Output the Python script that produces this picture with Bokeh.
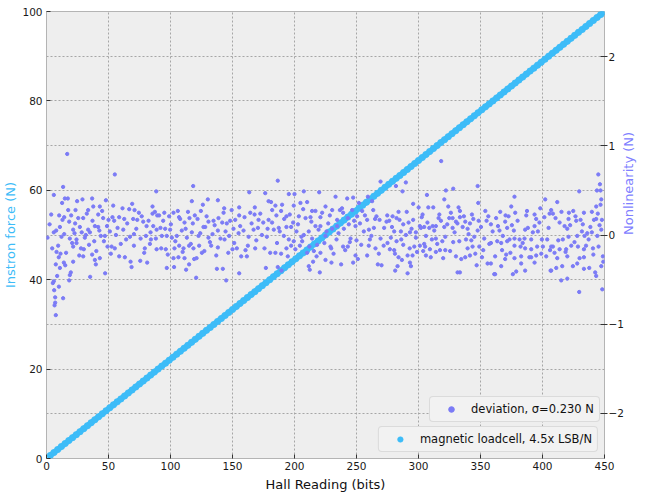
import math
from bokeh.plotting import figure
from bokeh.models import (Range1d, LinearAxis, FixedTicker, Grid, Legend,
                          LegendItem, ColumnDataSource)
from bokeh.embed import file_html
from bokeh.resources import INLINE

# ---------------- data ----------------
# magnetic loadcell: Instron force (N) vs Hall reading (bits)
load_bits = [3, 6, 9, 12, 15, 18, 21, 24, 27, 30, 33, 36, 39, 42, 45,
             48, 51, 54, 57, 60, 63, 66, 69, 72, 75, 78, 81, 84, 87, 90,
             93, 96, 99, 102, 105, 108, 111, 114, 117, 120, 123, 126, 129, 132, 135,
             138, 141, 144, 147, 150, 153, 156, 159, 162, 165, 168, 171, 174, 177, 180,
             183, 186, 189, 192, 195, 198, 201, 204, 207, 210, 213, 216, 219, 222, 225,
             228, 231, 234, 237, 240, 243, 246, 249, 252, 255, 258, 261, 264, 267, 270,
             273, 276, 279, 282, 285, 288, 291, 294, 297, 300, 303, 306, 309, 312, 315,
             318, 321, 324, 327, 330, 333, 336, 339, 342, 345, 348, 351, 354, 357, 360,
             363, 366, 369, 372, 375, 378, 381, 384, 387, 390, 393, 396, 399, 402, 405,
             408, 411, 414, 417, 420, 423, 426, 429, 432, 435, 438, 441, 444, 447, 450]
force_n = [0.67, 1.33, 2.0, 2.67, 3.33, 4.0, 4.67, 5.33, 6.0, 6.67, 7.33, 8.0, 8.67, 9.33, 10.0,
           10.67, 11.33, 12.0, 12.67, 13.33, 14.0, 14.67, 15.33, 16.0, 16.67, 17.33, 18.0, 18.67, 19.33, 20.0,
           20.67, 21.33, 22.0, 22.67, 23.33, 24.0, 24.67, 25.33, 26.0, 26.67, 27.33, 28.0, 28.67, 29.33, 30.0,
           30.67, 31.33, 32.0, 32.67, 33.33, 34.0, 34.67, 35.33, 36.0, 36.67, 37.33, 38.0, 38.67, 39.33, 40.0,
           40.67, 41.33, 42.0, 42.67, 43.33, 44.0, 44.67, 45.33, 46.0, 46.67, 47.33, 48.0, 48.67, 49.33, 50.0,
           50.67, 51.33, 52.0, 52.67, 53.33, 54.0, 54.67, 55.33, 56.0, 56.67, 57.33, 58.0, 58.67, 59.33, 60.0,
           60.67, 61.33, 62.0, 62.67, 63.33, 64.0, 64.67, 65.33, 66.0, 66.67, 67.33, 68.0, 68.67, 69.33, 70.0,
           70.67, 71.33, 72.0, 72.67, 73.33, 74.0, 74.67, 75.33, 76.0, 76.67, 77.33, 78.0, 78.67, 79.33, 80.0,
           80.67, 81.33, 82.0, 82.67, 83.33, 84.0, 84.67, 85.33, 86.0, 86.67, 87.33, 88.0, 88.67, 89.33, 90.0,
           90.67, 91.33, 92.0, 92.67, 93.33, 94.0, 94.67, 95.33, 96.0, 96.67, 97.33, 98.0, 98.67, 99.33, 100.0]

# deviation (nonlinearity, N) vs Hall reading (bits), read in five stretches
dev_bits_a = [16.7, 55.1, 13.4, 5.9, 88.5, 12.6, 14.8, 17.2, 24.7, 29.0, 36.8, 47.9, 3.8, 10.2, 14.3, 18.3, 17.5, 23.4, 29.6, 25.6, 33.6, 37.7, 43.0, 53.8, 61.3, 66.7, 69.1, 71.0, 74.5, 85.5, 85.5, 89.3, 41.7, 45.7, 50.0, 54.6, 58.6, 65.1, 69.9, 73.2, 78.0, 82.3, 80.7, 86.1, 88.8, 10.8, 5.9, 0.8, 12.1, 14.3, 21.5, 22.6, 26.9, 33.6, 35.0, 39.0, 41.7, 43.8, 18.8, 24.2, 30.9, 31.7, 38.5, 47.1, 51.1, 56.0, 61.9, 67.3, 70.5, 75.9, 80.2, 84.2, 88.2, 9.4, 8.1, 11.3, 21.5, 24.2, 26.4, 29.6, 30.1, 36.8, 39.0, 43.0, 49.2, 52.5, 55.1, 58.6, 63.2, 70.5, 67.8, 68.6, 78.8, 81.2, 75.6, 83.4, 88.8, 7.5, 10.8, 14.0, 15.1, 21.5, 19.6, 18.8, 8.6, 5.9, 5.1, 10.0, 18.3, 35.2, 47.3, 6.2, 7.0, 7.0, 6.5, 13.4, 7.5, 39.8,
              2.5, 4.6, 7.8, 9.9, 12.9, 15.8, 19.9, 20.7, 23.1, 27.8, 28.4, 32.5, 34.3, 37.1, 40.2, 42.6, 44.9, 46.3, 48.8, 51.9, 53.2, 57.3, 59.9, 62.7, 64.2, 72.4, 76.8, 79.3, 83.9, 87.4]
dev_n_a = [0.91, 0.68, 0.54, 0.45, 0.49, 0.36, 0.41, 0.41, 0.38, 0.40, 0.41, 0.39, 0.23, 0.22, 0.20, 0.15, 0.28, 0.28, 0.19, 0.19, 0.28, 0.32, 0.32, 0.33, 0.30, 0.29, 0.35, 0.28, 0.25, 0.32, 0.24, 0.22, 0.23, 0.19, 0.17, 0.16, 0.20, 0.13, 0.18, 0.17, 0.15, 0.16, 0.10, 0.10, 0.06, 0.09, 0.03, -0.03, -0.02, 0.01, 0.06, 0.02, 0.09, 0.06, 0.03, 0.10, 0.09, -0.01, -0.04, -0.05, -0.03, 0.00, -0.07, -0.01, 0.04, 0.00, 0.06, -0.02, 0.01, -0.04, -0.01, -0.05, -0.04, -0.12, -0.19, -0.21, -0.13, -0.09, -0.23, -0.24, -0.16, -0.22, -0.28, -0.26, -0.13, -0.13, -0.15, -0.24, -0.25, -0.12, -0.30, -0.36, -0.20, -0.31, -0.29, -0.10, -0.16, -0.33, -0.37, -0.31, -0.34, -0.30, -0.42, -0.45, -0.46, -0.52, -0.54, -0.58, -0.51, -0.47, -0.43, -0.62, -0.70, -0.76, -0.79, -0.71, -0.90, -0.33,
           0.12, -0.15, 0.05, -0.25, 0.17, -0.20, 0.22, -0.09, 0.13, -0.15, 0.03, 0.24, -0.11, 0.16, -0.18, 0.05, 0.27, -0.07, 0.10, -0.21, 0.20, 0.08, -0.10, 0.18, -0.05, 0.07, 0.21, -0.15, 0.03, 0.26]

dev_bits_b = [118.3, 163.5, 176.4, 117.2, 126.1, 130.1, 138.2, 143.3, 155.4, 168.0, 179.1, 124.5, 102.4, 105.9, 90.8, 94.1, 98.9, 107.8, 111.3, 115.3, 118.0, 121.8, 126.6, 130.6, 134.7, 138.7, 142.8, 145.4, 148.1, 152.2, 155.4, 159.7, 164.3, 167.8, 171.0, 174.8, 179.1, 95.7, 99.7, 93.0, 97.0, 101.1, 105.1, 109.1, 113.2, 117.2, 122.6, 128.0, 130.6, 133.9, 138.2, 143.6, 147.3, 150.8, 154.9, 158.9, 163.0, 167.0, 170.5, 173.7, 177.7, 92.5, 96.2, 103.2, 107.0, 110.5, 115.0, 118.5, 123.1, 125.3, 132.8, 138.2, 150.0, 153.5, 162.4, 168.3, 175.8, 102.4, 106.4, 111.3, 115.0, 119.1, 157.0, 161.6, 97.0, 102.9, 112.6, 137.4, 142.2, 120.7, 144.9, 155.4, 176.9, 180.4,
              91.9, 95.0, 97.8, 100.3, 103.9, 106.9, 109.8, 112.2, 114.1, 116.4, 119.6, 121.0, 124.0, 127.3, 129.1, 131.8, 135.6, 136.9, 140.3, 141.7, 144.4, 146.6, 149.3, 151.4, 156.2, 160.5, 165.4, 169.2, 172.4, 178.3]
dev_n_b = [0.55, 0.48, 0.47, 0.38, 0.34, 0.40, 0.39, 0.30, 0.31, 0.31, 0.38, 0.27, 0.25, 0.27, 0.22, 0.16, 0.21, 0.18, 0.14, 0.19, 0.13, 0.18, 0.09, 0.15, 0.16, 0.19, 0.25, 0.13, 0.16, 0.17, 0.22, 0.20, 0.25, 0.23, 0.17, 0.14, 0.17, 0.07, 0.06, -0.01, -0.01, -0.03, -0.01, 0.05, -0.03, 0.03, -0.01, 0.09, -0.03, 0.01, 0.05, -0.05, -0.01, 0.07, 0.02, 0.05, -0.02, 0.06, 0.08, 0.00, -0.02, -0.15, -0.16, -0.15, -0.12, -0.15, -0.12, -0.15, -0.12, -0.20, -0.12, -0.14, -0.16, -0.15, -0.12, -0.15, -0.15, -0.26, -0.25, -0.26, -0.33, -0.27, -0.24, -0.24, -0.37, -0.36, -0.39, -0.38, -0.38, -0.48, -0.51, -0.43, -0.37, -0.20,
           0.08, 0.25, -0.22, 0.12, -0.07, 0.20, -0.19, 0.07, 0.26, -0.10, 0.22, -0.26, 0.02, -0.18, 0.21, -0.08, 0.11, -0.23, -0.04, 0.14, 0.04, -0.20, 0.28, -0.09, 0.10, -0.17, 0.13, -0.06, 0.24, 0.07]

dev_bits_c = [186.5, 269.4, 195.4, 200.0, 207.5, 219.9, 233.1, 242.5, 247.3, 259.2, 251.9, 262.6, 181.1, 184.6, 190.0, 199.4, 204.8, 210.2, 207.0, 214.2, 216.9, 225.0, 230.4, 236.6, 239.2, 246.5, 254.6, 263.5, 266.1, 182.0, 185.4, 189.2, 193.5, 198.9, 203.5, 212.9, 220.9, 228.5, 234.4, 243.0, 250.5, 258.6, 268.6, 183.3, 187.3, 193.5, 197.3, 201.6, 207.5, 211.5, 216.9, 220.9, 225.8, 230.4, 234.4, 239.8, 243.8, 249.2, 255.9, 260.0, 264.0, 191.4, 195.4, 199.4, 204.3, 206.2, 214.2, 218.3, 225.0, 229.0, 233.9, 239.2, 245.2, 250.0, 253.8, 260.8, 265.3, 269.4, 184.6, 189.2, 193.5, 197.3, 210.2, 220.9, 215.6, 229.6, 243.0, 249.2, 258.6, 186.5, 189.5, 211.5, 212.3, 215.0, 220.4, 225.0, 229.8, 237.6, 247.3, 267.2, 270.2,
              181.9, 185.9, 188.1, 191.7, 194.6, 196.2, 200.7, 202.8, 205.6, 208.9, 212.0, 213.6, 217.8, 219.4, 222.3, 224.1, 227.2, 231.5, 235.5, 238.3, 240.9, 244.6, 248.1, 251.1, 252.8, 256.8, 259.9, 262.0, 265.0, 268.0]
dev_n_c = [0.61, 0.60, 0.46, 0.46, 0.49, 0.48, 0.43, 0.41, 0.42, 0.43, 0.36, 0.38, 0.37, 0.33, 0.34, 0.33, 0.36, 0.37, 0.29, 0.27, 0.27, 0.32, 0.28, 0.28, 0.25, 0.28, 0.27, 0.28, 0.21, 0.28, 0.22, 0.27, 0.21, 0.14, 0.21, 0.20, 0.20, 0.22, 0.17, 0.19, 0.21, 0.17, 0.17, 0.06, 0.08, 0.09, 0.09, 0.04, 0.00, 0.04, 0.10, 0.10, 0.04, 0.07, 0.10, 0.07, 0.12, 0.10, 0.04, 0.06, 0.08, -0.01, -0.05, -0.07, -0.12, -0.07, -0.04, -0.11, -0.01, -0.13, -0.05, -0.13, -0.04, -0.06, -0.11, -0.05, -0.15, -0.04, -0.20, -0.21, -0.15, -0.12, -0.20, -0.20, -0.18, -0.15, -0.13, -0.23, -0.23, -0.36, -0.40, -0.35, -0.39, -0.30, -0.42, -0.28, -0.31, -0.33, -0.31, -0.33, -0.34,
           0.14, -0.09, 0.04, 0.18, -0.24, 0.23, -0.16, 0.12, -0.02, 0.19, -0.13, 0.15, -0.24, 0.06, 0.25, -0.09, 0.13, -0.21, 0.02, 0.30, -0.17, -0.08, 0.16, -0.27, 0.13, 0.22, -0.12, -0.01, 0.18, -0.21]

dev_bits_d = [318.3, 289.8, 281.8, 287.1, 322.1, 328.0, 347.7, 306.8, 320.8, 295.7, 300.1, 307.9, 311.9, 324.0, 332.3, 348.2, 353.9, 283.9, 303.3, 279.1, 326.1, 333.4, 343.1, 274.2, 276.4, 282.3, 287.7, 292.0, 295.7, 301.1, 304.6, 308.7, 316.2, 318.1, 324.8, 327.5, 330.2, 333.4, 337.7, 341.5, 348.5, 354.9, 358.4, 272.3, 280.4, 285.8, 293.1, 297.9, 301.9, 311.4, 314.0, 320.8, 327.5, 335.6, 339.6, 347.7, 359.8, 277.7, 282.3, 289.8, 297.9, 306.0, 310.8, 314.0, 321.6, 328.0, 332.9, 338.3, 345.0, 353.0, 357.1, 275.0, 287.7, 296.6, 301.1, 304.6, 309.2, 317.3, 321.6, 339.6, 343.6, 349.0, 358.4, 276.9, 280.4, 291.2, 295.2, 303.8, 306.0, 314.0, 319.9, 330.2, 337.7, 341.5, 345.8, 351.2, 283.9, 286.6, 293.1, 293.9, 283.1, 281.2, 291.2, 331.5, 333.4, 346.9, 355.7, 358.4, 361.1,
              271.9, 274.8, 278.6, 281.0, 284.7, 286.1, 290.5, 292.9, 294.4, 298.8, 302.6, 305.3, 307.2, 309.9, 312.7, 315.1, 316.8, 319.2, 323.2, 325.5, 329.1, 331.4, 334.5, 336.6, 340.4, 342.6, 344.2, 350.4, 352.2, 356.3]
dev_n_d = [0.83, 0.59, 0.55, 0.49, 0.50, 0.52, 0.55, 0.45, 0.40, 0.35, 0.31, 0.31, 0.31, 0.32, 0.31, 0.36, 0.27, 0.26, 0.23, 0.21, 0.25, 0.27, 0.23, 0.15, 0.16, 0.19, 0.12, 0.14, 0.17, 0.10, 0.09, 0.08, 0.19, 0.16, 0.19, 0.19, 0.15, 0.20, 0.15, 0.13, 0.16, 0.16, 0.12, 0.08, 0.04, 0.04, 0.03, 0.03, 0.08, 0.10, 0.10, 0.09, 0.08, 0.09, 0.07, 0.05, 0.04, -0.03, -0.07, 0.00, -0.03, -0.01, -0.05, -0.04, -0.02, -0.08, -0.07, -0.05, -0.02, -0.04, -0.10, -0.09, -0.11, -0.13, -0.12, -0.10, -0.16, -0.17, -0.17, -0.15, -0.13, -0.13, -0.09, -0.16, -0.17, -0.23, -0.23, -0.18, -0.23, -0.19, -0.26, -0.24, -0.25, -0.23, -0.21, -0.25, -0.25, -0.28, -0.31, -0.35, -0.35, -0.40, -0.43, -0.42, -0.42, -0.34, -0.32, -0.32, -0.44,
           -0.12, 0.22, 0.09, -0.21, 0.17, -0.05, 0.26, -0.15, 0.07, -0.19, 0.20, -0.13, 0.14, -0.25, 0.05, -0.10, 0.23, -0.07, 0.12, -0.18, 0.03, 0.13, -0.27, 0.21, 0.01, -0.06, 0.18, 0.09, -0.17, 0.21]

dev_bits_e = [445.0, 446.3, 443.9, 446.8, 429.6, 447.4, 446.8, 443.3, 377.4, 402.2, 411.9, 374.8, 398.2, 407.0, 408.4, 421.3, 424.8, 433.4, 439.8, 365.9, 370.2, 378.0, 386.9, 393.6, 394.9, 405.7, 413.8, 417.8, 421.0, 427.2, 430.7, 441.5, 443.3, 447.9, 362.6, 369.9, 371.5, 375.3, 365.3, 386.0, 388.2, 393.6, 396.3, 420.0, 431.8, 436.1, 439.8, 447.4, 363.5, 368.0, 373.4, 377.4, 381.5, 385.5, 390.9, 399.5, 403.8, 408.4, 416.4, 421.0, 428.0, 433.9, 437.2, 444.2, 366.7, 371.5, 377.4, 382.3, 386.0, 390.9, 395.7, 400.3, 407.0, 413.8, 419.1, 423.2, 428.6, 433.4, 440.7, 445.2, 361.8, 370.7, 377.4, 382.8, 390.9, 394.9, 403.0, 409.7, 411.9, 420.0, 428.0, 433.4, 448.7, 366.7, 369.9, 382.8, 393.6, 406.5, 411.1, 415.9, 424.5, 433.4, 437.7, 442.5, 443.3, 447.4, 376.1, 378.8, 386.0, 407.0, 415.1, 420.0, 429.6, 448.2, 361.8,
              364.1, 367.4, 372.6, 374.1, 376.9, 379.9, 384.0, 387.5, 389.4, 392.2, 397.5, 399.0, 401.5, 404.9, 406.1, 410.5, 412.7, 415.3, 418.6, 422.3, 425.8, 426.6, 429.9, 432.5, 435.1, 438.6, 441.0, 444.6, 446.0, 449.0]
dev_n_e = [0.68, 0.57, 0.50, 0.50, 0.49, 0.40, 0.34, 0.32, 0.43, 0.40, 0.37, 0.32, 0.30, 0.28, 0.24, 0.25, 0.27, 0.25, 0.26, 0.26, 0.22, 0.25, 0.22, 0.23, 0.18, 0.24, 0.14, 0.10, 0.18, 0.16, 0.17, 0.17, 0.18, 0.17, 0.19, 0.15, 0.08, 0.11, 0.05, 0.06, 0.08, 0.10, 0.04, 0.07, 0.04, 0.02, 0.03, 0.06, -0.07, -0.01, -0.05, -0.04, -0.05, -0.04, -0.05, -0.05, -0.05, -0.13, -0.05, -0.02, -0.01, -0.01, -0.05, -0.01, -0.09, -0.07, -0.12, -0.13, -0.15, -0.16, -0.13, -0.13, -0.13, -0.16, -0.16, -0.12, -0.13, -0.16, -0.15, -0.13, -0.24, -0.22, -0.26, -0.24, -0.25, -0.23, -0.24, -0.20, -0.26, -0.24, -0.32, -0.25, -0.24, -0.35, -0.27, -0.32, -0.31, -0.40, -0.37, -0.35, -0.35, -0.38, -0.37, -0.42, -0.46, -0.35, -0.44, -0.41, -0.40, -0.40, -0.51, -0.49, -0.64, -0.61, -0.44,
           0.10, -0.17, 0.21, -0.20, 0.05, 0.16, -0.09, 0.27, -0.25, 0.03, 0.14, -0.21, 0.20, 0.08, -0.17, 0.19, -0.06, 0.26, -0.19, 0.11, -0.08, 0.21, -0.26, 0.12, -0.12, 0.09, -0.22, 0.24, 0.11, -0.30]

x_ticks = [0, 50, 100, 150, 200, 250, 300, 350, 400, 450]
force_ticks = [0, 20, 40, 60, 80, 100]
dev_ticks = [-2, -1, 0, 1, 2]
dev_tick_labels = {-2: "\u22122", -1: "\u22121", 0: "0", 1: "1", 2: "2"}

label_load = "magnetic loadcell, 4.5x LSB/N"
label_dev = "deviation, \u03c3=0.230 N"

# ---------------- assemble ----------------
dev_bits, dev_n = [], []
for xs, ys in [(dev_bits_a, dev_n_a), (dev_bits_b, dev_n_b), (dev_bits_c, dev_n_c),
               (dev_bits_d, dev_n_d), (dev_bits_e, dev_n_e)]:
    n = min(len(xs), len(ys))
    dev_bits += xs[:n]
    dev_n += ys[:n]

BLUE = "#3dbcf8"
PURPLE = "#7b7bf6"
FONT = "DejaVu Sans"

p = figure(width=646, height=497, x_range=Range1d(0, 450), y_range=Range1d(0, 100),
           output_backend="svg", toolbar_location=None,
           min_border_left=46, min_border_right=42, min_border_top=11, min_border_bottom=39)
p.extra_y_ranges = {"dev": Range1d(-2.51, 2.51)}
p.background_fill_color = "#eeeeee"
p.border_fill_color = "white"
p.outline_line_color = "#b4b4b4"
p.outline_line_width = 1


def style_axis(ax, label_standoff, title_standoff, tick_out=0):
    ax.axis_line_color = None
    ax.major_tick_line_color = "#333333"
    ax.major_tick_in = 4
    ax.major_tick_out = tick_out
    ax.minor_tick_line_color = None
    ax.major_label_text_font = FONT
    ax.major_label_text_font_size = "10.5px"
    ax.major_label_text_color = "#1a1a1a"
    ax.axis_label_text_font = FONT
    ax.axis_label_text_font_size = "13px"
    ax.axis_label_text_font_style = "normal"
    ax.major_label_standoff = label_standoff
    ax.axis_label_standoff = title_standoff


p.xaxis.ticker = FixedTicker(ticks=x_ticks)
p.xaxis.axis_label = "Hall Reading (bits)"
style_axis(p.xaxis[0], 3, 4)
p.xaxis.axis_label_text_color = "#111111"

p.yaxis.ticker = FixedTicker(ticks=force_ticks)
p.yaxis.axis_label = "Instron force (N)"
style_axis(p.yaxis[0], 4, 1)
p.yaxis.axis_label_text_color = BLUE

ax_r = LinearAxis(y_range_name="dev", ticker=FixedTicker(ticks=dev_ticks),
                  axis_label="Nonlinearity (N)")
style_axis(ax_r, 1, 2, tick_out=3)
ax_r.major_label_overrides = dev_tick_labels
ax_r.axis_label_text_color = "#8080ff"
if "axis_label_orientation" in ax_r.properties():
    ax_r.axis_label_orientation = math.pi / 2
p.add_layout(ax_r, "right")

for g in (p.xgrid[0], p.ygrid[0]):
    g.grid_line_color = "#a6a6a6"
    g.grid_line_dash = "2 2"
    g.grid_line_width = 1
p.xgrid.ticker = FixedTicker(ticks=x_ticks)
p.ygrid.ticker = FixedTicker(ticks=force_ticks)

g_r = Grid(dimension=1, ticker=FixedTicker(ticks=dev_ticks), y_range_name="dev",
           grid_line_color="#a6a6a6", grid_line_dash="2 2", grid_line_width=1)
p.add_layout(g_r)

src_load = ColumnDataSource(data=dict(x=load_bits, y=force_n))
src_dev = ColumnDataSource(data=dict(x=dev_bits, y=dev_n))

# dense loadcell points form a continuous band
p.line("x", "y", source=src_load, line_color=BLUE, line_width=5.5)
r_load = p.scatter("x", "y", source=src_load, size=6.5, marker="circle",
                   fill_color=BLUE, line_color=BLUE, line_width=0.5)
r_dev = p.scatter("x", "y", source=src_dev, size=3.3, marker="circle",
                  fill_color=PURPLE, line_color=PURPLE, line_width=1, y_range_name="dev")

leg_dev = Legend(items=[LegendItem(label=label_dev, renderers=[r_dev])], location=(383, 36))
leg_load = Legend(items=[LegendItem(label=label_load, renderers=[r_load])], location="bottom_right")
for lg in (leg_dev, leg_load):
    lg.label_text_font = FONT
    lg.label_text_font_size = "11.5px"
    lg.label_text_color = "#111111"
    lg.background_fill_color = "#f2f2f2"
    lg.background_fill_alpha = 1.0
    lg.border_line_color = "#c4c4c4"
    lg.border_line_width = 1
    lg.padding = 5
    lg.spacing = 0
    lg.glyph_width = 32
    lg.glyph_height = 14
    lg.label_height = 14
    lg.label_standoff = 4
    if "border_radius" in lg.properties():
        lg.border_radius = 4
    p.add_layout(lg)
leg_dev.margin = 0
leg_load.margin = 6

open("out.html", "w").write(file_html(p, INLINE))
